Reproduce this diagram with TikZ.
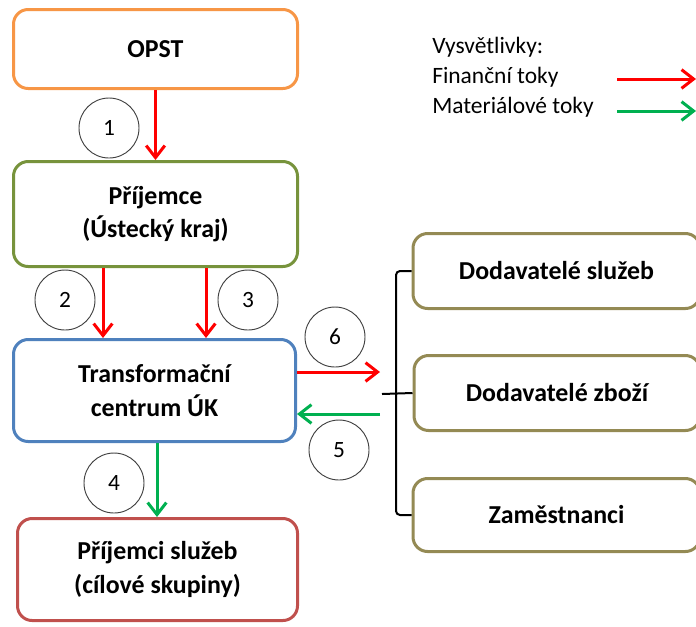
\documentclass[tikz,border=0pt]{standalone}
\usepackage{fontspec}
\setmainfont{Carlito}
\usetikzlibrary{arrows.meta}
\newdimen\px \px=0.75pt
\definecolor{cOrange}{HTML}{F79646}
\definecolor{cGreen}{HTML}{77933C}
\definecolor{cBlue}{HTML}{4F81BD}
\definecolor{cRed}{HTML}{C0504D}
\definecolor{cKhaki}{HTML}{948A54}
\definecolor{aRed}{HTML}{FF0000}
\definecolor{aGreen}{HTML}{00B050}
\tikzset{
  boxnode/.style={draw, rounded corners=11pt, line width=2.25pt, fill=white,
    font=\bfseries\fontsize{19.4}{25}\selectfont, align=center, inner sep=0pt},
  numcirc/.style={circle, draw=black!75, line width=0.7pt, minimum size=60\px,
    inner sep=0pt, font=\fontsize{17.5}{20}\selectfont},
  flowtip/.style={-{Straight Barb[length=9pt,width=14pt]}},
  finflow/.style={flowtip, draw=aRed, line width=2.25pt},
  matflow/.style={flowtip, draw=aGreen, line width=2.25pt},
  legtext/.style={anchor=west, inner sep=0pt, font=\fontsize{17.6}{20}\selectfont},
  bracket/.style={draw=black, line width=1.5pt}
}
\begin{document}
\begin{tikzpicture}[x=0.75pt, y=-0.75pt]
\useasboundingbox (0,0) rectangle (696,626);
% main boxes
\node[boxnode, draw=cOrange, minimum width=284\px, minimum height=79\px] (opst) at (155.5,49) {OPST};
\node[boxnode, draw=cGreen, minimum width=284\px, minimum height=105\px] (prij) at (155.5,214) {Příjemce\\(Ústecký kraj)};
\node[boxnode, draw=cBlue, minimum width=282\px, minimum height=102\px] (tc) at (154.5,390.5) {Transformační\\centrum ÚK};
\node[boxnode, draw=cRed, minimum width=280\px, minimum height=102\px] (ps) at (157.5,569.5) {Příjemci služeb\\(cílové skupiny)};
% right boxes
\node[boxnode, draw=cKhaki, minimum width=287\px, minimum height=75\px] (ds) at (556.5,271) {Dodavatelé služeb};
\node[boxnode, draw=cKhaki, minimum width=286\px, minimum height=75\px] (dz) at (557,393) {Dodavatelé zboží};
\node[boxnode, draw=cKhaki, minimum width=287\px, minimum height=73\px] (za) at (556.5,515) {Zaměstnanci};
% circles
\node[numcirc] (c1) at (109,128) {1};
\node[numcirc] (c2) at (65,300) {2};
\node[numcirc] (c3) at (248,300) {3};
\node[numcirc] (c4) at (114,483) {4};
\node[numcirc] (c5) at (339,450) {5};
\node[numcirc] (c6) at (335,337) {6};
% flows
\draw[finflow] (opst.south) -- (prij.north);
\coordinate (a2) at ([xshift=-52.5\px]prij.south);
\coordinate (a3) at ([xshift=50.5\px]prij.south);
\draw[finflow] (a2) -- (a2 |- tc.north);
\draw[finflow] (a3) -- (a3 |- tc.north);
\coordinate (a4) at ([xshift=2.5\px]tc.south);
\draw[matflow] (a4) -- (a4 |- ps.north);
\coordinate (a6s) at ([yshift=18.5\px]tc.east);
\coordinate (a6e) at (380,372);
\draw[finflow] (a6s) -- (a6e);
\coordinate (a5s) at (380,414);
\draw[matflow] (a5s) -- (a5s -| tc.east);
% bracket
\coordinate (btip) at (382,394);
\draw[bracket, rounded corners=3pt] (ds.west) -- (ds.west -| 396,0) -- (396,394) -- (za.west -| 396,0) -- (za.west);
\draw[bracket] (btip) -- (dz.west);
% legend
\node[legtext] (lg0) at (432,47) {Vysvětlivky:};
\node[legtext] (lg1) at (432,77) {Finanční toky};
\node[legtext] (lg2) at (432,107) {Materiálové toky};
\coordinate (l1s) at (617,79);
\coordinate (l1e) at (696,79);
\coordinate (l2s) at (617,111);
\coordinate (l2e) at (696,111);
\draw[finflow] (l1s) -- (l1e);
\draw[matflow] (l2s) -- (l2e);
\end{tikzpicture}
\end{document}
